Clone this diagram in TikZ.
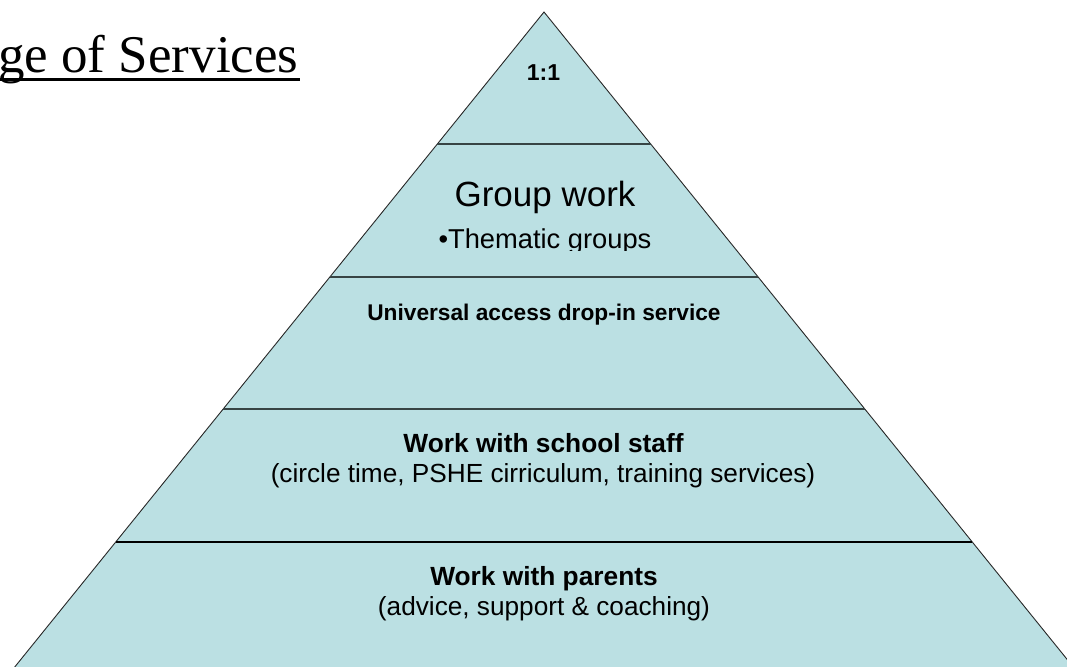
\documentclass[tikz,border=0pt]{standalone}
\usepackage{fontspec}
\setmainfont{Liberation Sans}
\newfontfamily\serifx{Liberation Serif}
\usetikzlibrary{calc}
\definecolor{tierfill}{RGB}{187,224,227}
\definecolor{divgray}{RGB}{55,68,68}
\definecolor{edgegray}{RGB}{40,40,40}
\tikzset{
  lbl/.style={inner sep=0pt, anchor=base, text=black},
  divider/.style={draw=divgray, line width=2pt},
  basediv/.style={draw=black, line width=2pt},
  pyr/.style={fill=tierfill, draw=edgegray, line width=0.9pt},
  uline/.style={draw=black, line width=2.7pt},
}
\newcommand{\fsz}[1]{\fontsize{#1}{#1}\selectfont}
\begin{document}
\begin{tikzpicture}[x=1pt,y=-1pt]
\useasboundingbox (0,0) rectangle (1067,666);
\clip (0,0) rectangle (1067,666);
% pyramid
\coordinate (apex) at (544,12);
\coordinate (bl) at (12.3,670);
\coordinate (br) at (1075.7,670);
\path[pyr] (apex) -- (bl) -- (br) -- cycle;
% dividers
\coordinate (d1l) at ($(apex)!0.2006!(bl)$);
\coordinate (d1r) at ($(apex)!0.2006!(br)$);
\coordinate (d2l) at ($(apex)!0.4023!(bl)$);
\coordinate (d2r) at ($(apex)!0.4023!(br)$);
\coordinate (d3l) at ($(apex)!0.6033!(bl)$);
\coordinate (d3r) at ($(apex)!0.6033!(br)$);
\coordinate (d4l) at ($(apex)!0.8055!(bl)$);
\coordinate (d4r) at ($(apex)!0.8055!(br)$);
\draw[divider] (d1l) -- (d1r);
\draw[divider] (d2l) -- (d2r);
\draw[divider] (d3l) -- (d3r);
\draw[basediv] (d4l) -- (d4r);
% title
\node[lbl, anchor=base west] (title) at (-2,73) {\serifx\fsz{53}ge of Services};
\coordinate (ul1) at (0,79.3);
\coordinate (ul2) at (300,79.3);
\draw[uline] (ul1) -- (ul2);
% tier texts
\node[lbl] (t1) at (543.5,81) {\bfseries\fsz{23}1:1};
\node[lbl] (t2) at (545,206.7) {\fsz{35}Group work};
\begin{scope}
  \clip (300,150) rectangle (800,250);
  \node[lbl] (t2b) at (545,248.7) {\fsz{27.3}•Thematic groups};
\end{scope}
\node[lbl] (t3) at (544,320.7) {\bfseries\fsz{22.7}Universal access drop-in service};
\node[lbl] (t4) at (543.5,452.7) {\bfseries\fsz{26.3}Work with school staff};
\node[lbl] (t4b) at (543,482) {\fsz{26.2}(circle time, PSHE cirriculum, training services)};
\node[lbl] (t5) at (544,585.5) {\bfseries\fsz{26.3}Work with parents};
\node[lbl] (t5b) at (544,615) {\fsz{26.2}(advice, support \& coaching)};
\end{tikzpicture}
\end{document}
